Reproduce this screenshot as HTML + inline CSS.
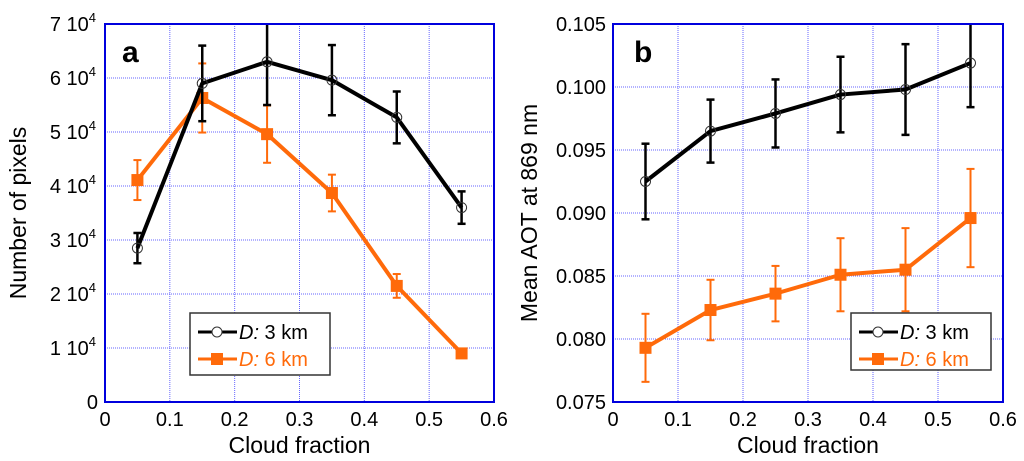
<!DOCTYPE html>
<html><head><meta charset="utf-8"><style>
html,body{margin:0;padding:0;background:#fff;}
svg{display:block;font-family:"Liberation Sans",Arial,sans-serif;}
</style></head><body>
<svg id="fig" width="1024" height="461" viewBox="0 0 1024 461" xmlns="http://www.w3.org/2000/svg">
<defs>
<clipPath id="clipA"><rect x="105" y="24" width="389" height="378"/></clipPath>
<clipPath id="clipB"><rect x="613" y="24" width="390" height="378"/></clipPath>
</defs>
</svg>
<script>
// ---- shared data ----
const categories = [0.05, 0.15, 0.25, 0.35, 0.45, 0.55];
const xTicks = [0, 0.1, 0.2, 0.3, 0.4, 0.5, 0.6];
// Panel a (units of 10^4 pixels)
const aBlack = [2.85, 5.9, 6.3, 5.96, 5.27, 3.6];
const aBlackErr = [0.28, 0.7, 0.8, 0.65, 0.48, 0.3];
const aOrange = [4.11, 5.63, 4.96, 3.87, 2.15, 0.9];
const aOrangeErr = [0.37, 0.64, 0.53, 0.34, 0.22, 0];
const aYTicks = [0, 1, 2, 3, 4, 5, 6, 7];
// Panel b (mean AOT)
const bBlack = [0.0925, 0.0965, 0.0979, 0.0994, 0.0998, 0.1019];
const bBlackErr = [0.003, 0.0025, 0.0027, 0.003, 0.0036, 0.0035];
const bOrange = [0.0793, 0.0823, 0.0836, 0.0851, 0.0855, 0.0896];
const bOrangeErr = [0.0027, 0.0024, 0.0022, 0.0029, 0.0033, 0.0039];
const bYTicks = ["0.075", "0.080", "0.085", "0.090", "0.095", "0.100", "0.105"];

const NS = "http://www.w3.org/2000/svg";
const svg = document.getElementById("fig");
function mk(tag, attrs, parent, text) {
  const e = document.createElementNS(NS, tag);
  for (const k in attrs) e.setAttribute(k, attrs[k]);
  if (text !== undefined) e.textContent = text;
  (parent || svg).appendChild(e);
  return e;
}
const BLACK = "#000", ORANGE = "#ff6a0a", BLUE = "#0000dd";

function panel(o) {
  const g = mk("g", {});
  
  
  const L = o.L, R = o.R, T = 24, B = 402;
  const xs = v => L + (v - 0) / 0.6 * (R - L);
  const ys = v => B - (v - o.ymin) / (o.ymax - o.ymin) * (B - T);
  const grid = mk("g", {}, g);
  
  
  xTicks.forEach(t => { if (t > 0 && t < 0.6) mk("line", {x1: xs(t), x2: xs(t), y1: T, y2: B, stroke: "#6666ff", "stroke-width": 1, "stroke-dasharray": "1,1"}, grid); });
  o.yVals.forEach(v => { if (v > o.ymin && v < o.ymax) mk("line", {x1: L, x2: R, y1: ys(v), y2: ys(v), stroke: "#6666ff", "stroke-width": 1, "stroke-dasharray": "1,1"}, grid); });
  xTicks.forEach(t => {
    const tx = mk("text", {x: xs(t), y: 426, "font-size": 20, "text-anchor": "middle"}, g, String(t));
    
    
  });
  o.yVals.forEach((v, i) => {
    const tx = mk("text", {x: L - 7, y: ys(v) + 7, "font-size": 20, "text-anchor": "end"}, g);
    
    
    if (o.sci && v !== 0) {
      tx.textContent = v + " 10";
      mk("tspan", {"font-size": 13, dy: -9}, tx, "4");
      tx.setAttribute("x", L - 9);
    } else {
      tx.textContent = o.labels[i];
    }
  });
  const xt = mk("text", {x: (L + R) / 2, y: 453, "font-size": 23, "text-anchor": "middle"}, g, "Cloud fraction");
  
  
  const yt = mk("text", {x: 0, y: 0, "font-size": 23, "text-anchor": "middle", transform: `translate(${o.ytx},213) rotate(-90)`}, g, o.ytitle);
  
  
  const data = mk("g", {"clip-path": `url(#${o.clip})`}, g);
  function series(vals, errs, color, marker, nm) {
    const sg = mk("g", {}, data);
    
    
    const thin = color === BLACK ? 2.5 : 2;
    categories.forEach((c, i) => {
      if (!errs[i]) return;
      const x = xs(c), y1 = ys(vals[i] + errs[i]), y2 = ys(vals[i] - errs[i]);
      mk("line", {x1: x, x2: x, y1: y1, y2: y2, stroke: color, "stroke-width": thin}, sg);
      mk("line", {x1: x - 4, x2: x + 4, y1: y1, y2: y1, stroke: color, "stroke-width": thin}, sg);
      mk("line", {x1: x - 4, x2: x + 4, y1: y2, y2: y2, stroke: color, "stroke-width": thin}, sg);
    });
    const pts = categories.map((c, i) => xs(c) + "," + ys(vals[i])).join(" ");
    const pl = mk("polyline", {points: pts, fill: "none", stroke: color, "stroke-width": 4, "stroke-linejoin": "round"}, sg);
    
    
    categories.forEach((c, i) => {
      let m;
      if (marker === "circle") m = mk("circle", {cx: xs(c), cy: ys(vals[i]), r: 5, fill: "none", stroke: "#333", "stroke-width": 1}, sg);
      else m = mk("rect", {x: xs(c) - 6, y: ys(vals[i]) - 6, width: 12, height: 12, fill: color}, sg);
      
      
    });
  }
  series(o.orange, o.orangeErr, ORANGE, "square", "series-6km");
  series(o.black, o.blackErr, BLACK, "circle", "series-3km");
  const fr = mk("rect", {x: L, y: T, width: R - L, height: B - T, fill: "none", stroke: BLUE, "stroke-width": 2}, g);
  
  
  const pl = mk("text", {x: o.letterX, y: 62, "font-size": 30, "font-weight": "bold"}, g, o.letter);
  
  
  const lg = mk("g", {}, g);
  
  
  const lx = o.legX, ly = o.legY;
  mk("rect", {x: lx, y: ly, width: 140, height: o.legH, fill: "#fff", stroke: "#333", "stroke-width": 1.5}, lg);
  const e1 = mk("g", {}, lg);
  
  
  mk("line", {x1: lx + 8, x2: lx + 47, y1: ly + 19, y2: ly + 19, stroke: BLACK, "stroke-width": 3}, e1);
  mk("circle", {cx: lx + 27, cy: ly + 19, r: 5, fill: "#fff", stroke: "#333", "stroke-width": 1}, e1);
  const t1 = mk("text", {x: lx + 49, y: ly + 26, "font-size": 20}, e1);
  mk("tspan", {"font-style": "italic"}, t1, "D:");
  mk("tspan", {}, t1, " 3 km");
  const e2 = mk("g", {}, lg);
  
  
  mk("line", {x1: lx + 8, x2: lx + 47, y1: ly + 46, y2: ly + 46, stroke: ORANGE, "stroke-width": 3}, e2);
  mk("rect", {x: lx + 21, y: ly + 40, width: 12, height: 12, fill: ORANGE}, e2);
  const t2 = mk("text", {x: lx + 49, y: ly + 53, "font-size": 20, fill: ORANGE}, e2);
  mk("tspan", {"font-style": "italic"}, t2, "D:");
  mk("tspan", {}, t2, " 6 km");
}

panel({name: "panel-a", L: 105, R: 494, ymin: 0, ymax: 7, yVals: aYTicks, sci: true, labels: aYTicks.map(String),
  ytitle: "Number of pixels", ytx: 26, clip: "clipA",
  black: aBlack, blackErr: aBlackErr, orange: aOrange, orangeErr: aOrangeErr,
  letter: "a", letterX: 122, legX: 190, legY: 313, legH: 62});
panel({name: "panel-b", L: 613, R: 1003, ymin: 0.075, ymax: 0.105, yVals: bYTicks.map(Number), sci: false, labels: bYTicks,
  ytitle: "Mean AOT at 869 nm", ytx: 537, clip: "clipB",
  black: bBlack, blackErr: bBlackErr, orange: bOrange, orangeErr: bOrangeErr,
  letter: "b", letterX: 634, legX: 851, legY: 313, legH: 57});
</script>
</body></html>
